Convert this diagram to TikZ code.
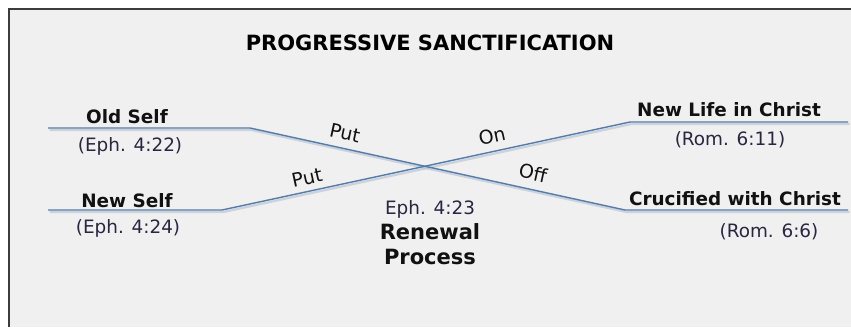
\documentclass[tikz,border=0pt]{standalone}
\usepackage{fontspec}
\setmainfont{DejaVu Sans}
\begin{document}
\begin{tikzpicture}[x=1pt,y=-1pt,
  panel/.style={fill=panelgray,draw=none},
  frameline/.style={draw=framegray,line width=2.4pt},
  track/.style={draw=trackblue,line width=1.4pt,line join=round},
  trackshadow/.style={draw=shadowgray,line width=2.2pt,line join=round,opacity=0.7},
  heading/.style={font=\bfseries\fontsize{21}{25}\selectfont,text=black,inner sep=0pt,anchor=base},
  selflabel/.style={font=\bfseries\fontsize{18.4}{22}\selectfont,text=labelblack,inner sep=0pt,anchor=base},
  reflabel/.style={font=\fontsize{18.4}{22}\selectfont,text=refcolor,inner sep=0pt,anchor=base},
  biglabel/.style={font=\bfseries\fontsize{21}{25}\selectfont,text=labelblack,inner sep=0pt,anchor=base},
  actlabel/.style={font=\fontsize{19}{23}\selectfont,text=labelblack,inner sep=0pt}
]
\definecolor{panelgray}{HTML}{F0F0F0}
\definecolor{framegray}{HTML}{3C3C3C}
\definecolor{trackblue}{HTML}{4A7EBB}
\definecolor{shadowgray}{HTML}{C4C4C4}
\definecolor{labelblack}{HTML}{111111}
\definecolor{refcolor}{HTML}{2B2540}

% page and panel
\useasboundingbox (0,0) rectangle (851,327);
\fill[white] (0,0) rectangle (851,327);
\path[panel] (9,9) rectangle (851,327);
\draw[frameline] (9,327) -- (9,9) -- (851,9);

% bend points of the two crossing tracks
\coordinate (oldA) at (48,128);
\coordinate (oldB) at (250,128);
\coordinate (oldC) at (625,210);
\coordinate (oldD) at (848,210);
\coordinate (newA) at (48,210);
\coordinate (newB) at (222,210);
\coordinate (newC) at (630,122);
\coordinate (newD) at (848,122);

% soft shadows under the tracks
\draw[trackshadow] ([shift={(1.5,2)}]oldA) -- ([shift={(1.5,2)}]oldB) -- ([shift={(1.5,2)}]oldC) -- ([shift={(1.5,2)}]oldD);
\draw[trackshadow] ([shift={(1.5,2)}]newA) -- ([shift={(1.5,2)}]newB) -- ([shift={(1.5,2)}]newC) -- ([shift={(1.5,2)}]newD);

% the tracks
\draw[track] (oldA) -- (oldB) -- (oldC) -- (oldD);
\draw[track] (newA) -- (newB) -- (newC) -- (newD);

% title
\node[heading] (title) at (430,50) {PROGRESSIVE SANCTIFICATION};

% left side
\node[selflabel] (oldself) at (127,123) {Old Self};
\node[reflabel] (oldref) at (130,151) {(Eph. 4:22)};
\node[selflabel] (newself) at (127,207) {New Self};
\node[reflabel] (newref) at (128,233) {(Eph. 4:24)};

% right side
\node[selflabel] (newlife) at (729,116) {New Life in Christ};
\node[reflabel] (liferef) at (730,145) {(Rom. 6:11)};
\node[selflabel] (crucified) at (735,205) {Crucified with Christ};
\node[reflabel] (crossref) at (769,237) {(Rom. 6:6)};

% centre
\node[reflabel] (renewref) at (430,214) {Eph. 4:23};
\node[biglabel] (renewal) at (430,239) {Renewal};
\node[biglabel] (process) at (430,264) {Process};

% labels along the diagonals
\node[actlabel,rotate=-12.3] (putoff1) at (345,133) {Put};
\node[actlabel,rotate=-12.3] (putoff2) at (533,173) {Off};
\node[actlabel,rotate=12.2] (puton1) at (307,178) {Put};
\node[actlabel,rotate=12.2] (puton2) at (492,136) {On};
\end{tikzpicture}
\end{document}
